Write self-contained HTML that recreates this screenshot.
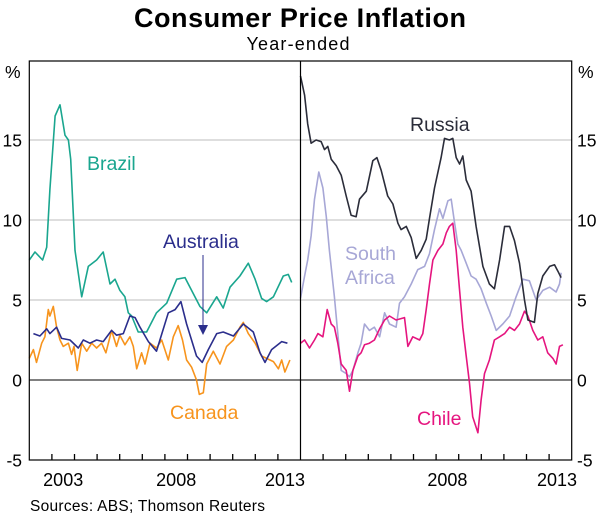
<!DOCTYPE html>
<html><head><meta charset="utf-8"><style>
body{margin:0;background:#fff;width:600px;height:515px;overflow:hidden}
svg{display:block;font-family:"Liberation Sans",Arial,sans-serif}
</style></head><body>
<svg id="chart" width="600" height="515" viewBox="0 0 600 515">
<text x="300" y="27" text-anchor="middle" font-size="27" font-weight="bold" fill="#000" textLength="332">Consumer Price Inflation</text>
<text x="298" y="50" text-anchor="middle" font-size="18" fill="#000" textLength="103">Year-ended</text>
<g id="grid"></g><g id="series"></g><g id="axes"></g>
<text x="87" y="170" font-size="19.5" fill="#1aa68f">Brazil</text>
<text x="163" y="248" font-size="19.5" fill="#2b2e8c">Australia</text>
<g><line x1="203" y1="255" x2="203" y2="326" stroke="#2b2e8c" stroke-width="1"/><polygon points="198,325 208,325 203,335" fill="#2b2e8c"/></g>
<text x="170" y="419" font-size="19.5" fill="#f7941d">Canada</text>
<text x="410" y="131" font-size="19.5" fill="#2b2d3a">Russia</text>
<text x="345" y="260" font-size="19.5" fill="#a7a7d6">South</text>
<text x="345" y="284" font-size="19.5" fill="#a7a7d6">Africa</text>
<text x="417" y="425" font-size="19.5" fill="#e5157f">Chile</text>
<text x="30" y="511" font-size="15.5" fill="#000" textLength="235">Sources: ABS; Thomson Reuters</text>
</svg>
<script>
const brazilX=[2001.0,2001.25,2001.59,2001.77,2001.91,2002.14,2002.36,2002.58,2002.73,2002.83,2003.02,2003.32,2003.61,2003.98,2004.27,2004.57,2004.79,2005.01,2005.23,2005.38,2005.53,2005.82,2006.19,2006.63,2007.08,2007.52,2007.89,2008.18,2008.55,2008.85,2009.29,2009.58,2009.88,2010.32,2010.69,2010.99,2011.28,2011.50,2011.80,2012.24,2012.46,2012.61];
const brazilY=[7.5,8,7.5,8.3,11.9,16.5,17.2,15.3,15,13.8,8.1,5.2,7.1,7.5,8,6,6.3,5.6,5.2,4.2,4,3,3,4.2,4.8,6.3,6.4,5.6,4.6,4.2,5.2,4.5,5.8,6.5,7.3,6.3,5.1,4.9,5.2,6.5,6.6,6.1];
const ausX=[2001.18,2001.47,2001.77,2001.91,2002.21,2002.43,2002.80,2003.17,2003.39,2003.68,2003.98,2004.27,2004.64,2004.86,2005.16,2005.45,2005.68,2005.90,2006.27,2006.63,2006.78,2007.15,2007.45,2007.71,2007.96,2008.40,2008.65,2008.92,2009.29,2009.58,2010.03,2010.47,2010.91,2011.21,2011.43,2011.72,2012.17,2012.42];
const ausY=[2.9,2.75,3.2,2.9,3.3,2.6,2.5,2,2.5,2.3,2.5,2.4,3.1,2.8,2.9,4,3.9,3.3,2.4,1.8,2.5,4.2,4.4,4.9,3.5,1.5,1.1,1.9,2.9,3,2.75,3.5,3,1.7,1.1,1.9,2.4,2.3];
const canX=[2001.0,2001.18,2001.32,2001.55,2001.69,2001.84,2001.91,2002.06,2002.21,2002.36,2002.50,2002.73,2002.87,2002.98,2003.12,2003.32,2003.54,2003.76,2003.98,2004.20,2004.39,2004.64,2004.86,2005.01,2005.23,2005.45,2005.60,2005.75,2005.97,2006.12,2006.34,2006.63,2006.86,2007.15,2007.37,2007.59,2007.78,2007.96,2008.18,2008.40,2008.52,2008.70,2008.85,2009.14,2009.44,2009.73,2010.03,2010.32,2010.47,2010.69,2010.99,2011.28,2011.50,2011.80,2012.02,2012.17,2012.31,2012.53];
const canY=[1.35,1.9,1.1,2.3,2.7,4.4,4,4.6,3.3,2.5,2.1,2.3,1.6,2.1,0.6,2.3,1.8,2.3,2,2.3,1.7,3.1,2.1,2.8,2.2,2.7,2.1,0.7,1.7,1,2.3,2,2.5,1.25,2.7,3.4,2.5,1.25,0.8,0,-0.9,-0.8,1,1.8,1,2.1,2.5,3.3,3.6,2.9,2.3,1.5,1.35,1.15,0.7,1.25,0.5,1.25];
const rusX=[2001.0,2001.18,2001.32,2001.47,2001.69,2001.91,2002.06,2002.21,2002.36,2002.58,2002.80,2003.02,2003.24,2003.46,2003.61,2003.91,2004.20,2004.38,2004.57,2004.86,2005.09,2005.31,2005.45,2005.68,2005.90,2006.12,2006.34,2006.56,2006.71,2006.93,2007.22,2007.37,2007.59,2007.74,2007.89,2008.04,2008.18,2008.33,2008.55,2008.77,2009.07,2009.36,2009.58,2009.81,2010.03,2010.25,2010.47,2010.69,2010.91,2011.06,2011.35,2011.50,2011.72,2012.02,2012.24,2012.39,2012.53];
const rusY=[19,17.8,16,14.8,15,14.9,14.4,14.6,13.8,13.4,12.8,11.5,10.3,10.2,11.3,11.8,13.7,13.9,13.1,11.5,11,9.8,9.4,9.6,8.9,7.6,8.1,8.8,10.1,12,13.9,15.1,15,15.1,13.9,13.5,14,12.5,11.8,9.6,7.1,6,5.7,7.5,9.6,9.6,8.7,7.3,5,3.75,3.6,5.4,6.5,7.1,7.2,6.8,6.4];
const zafX=[2001.0,2001.18,2001.32,2001.47,2001.62,2001.81,2001.99,2002.14,2002.28,2002.50,2002.65,2002.80,2003.02,2003.17,2003.32,2003.54,2003.68,2003.83,2004.05,2004.27,2004.50,2004.72,2004.94,2005.23,2005.38,2005.60,2005.90,2006.19,2006.49,2006.71,2006.93,2007.15,2007.30,2007.52,2007.67,2007.81,2007.96,2008.11,2008.33,2008.55,2008.77,2008.99,2009.22,2009.44,2009.66,2009.95,2010.25,2010.54,2010.84,2011.13,2011.43,2011.72,2012.02,2012.31,2012.46,2012.53];
const zafY=[5.1,6.5,7.5,9,11.3,13,12,10.2,8.1,5.2,2.9,0.6,0.4,0.2,0.6,1.7,2.3,3.5,3.1,3.3,2.7,4.2,3.5,3.3,4.8,5.2,6,6.9,7.1,7.9,9.4,10.7,10.1,11.2,11.3,9.9,8.5,8.1,7.3,6.5,6.3,5.7,4.8,4,3.1,3.5,4,5.2,6.3,6.2,5,5.6,5.8,5.5,6,6.7];
const chlX=[2001.0,2001.18,2001.40,2001.62,2001.77,2001.99,2002.18,2002.36,2002.50,2002.65,2002.80,2003.02,2003.17,2003.32,2003.54,2003.68,2003.83,2004.05,2004.27,2004.50,2004.72,2004.94,2005.23,2005.60,2005.75,2005.97,2006.27,2006.41,2006.56,2006.71,2006.86,2007.08,2007.30,2007.45,2007.59,2007.74,2007.89,2008.04,2008.18,2008.33,2008.48,2008.62,2008.85,2008.99,2009.14,2009.36,2009.58,2009.81,2010.03,2010.25,2010.47,2010.69,2010.91,2011.06,2011.28,2011.50,2011.72,2011.94,2012.17,2012.31,2012.46,2012.61];
const chlY=[2.3,2.5,2,2.5,2.9,2.7,4.4,3.5,3.3,2.3,1,0.6,-0.7,0.6,1.5,1.7,2.2,2.3,2.5,3.2,3.75,4,3.75,3.9,2.1,2.7,2.5,2.9,4.4,6,7.5,8.1,8.5,9.2,9.6,9.8,8.1,5.6,3.3,1.5,-0.2,-2.3,-3.3,-1.25,0.4,1.25,2.5,2.7,2.9,3.3,3.1,3.5,4.3,4,3.1,2.5,2.7,1.7,1.35,1,2.1,2.2];
const yTicks=[-5,0,5,10,15];
const yearLabels=[2003,2008,2013];

const NS="http://www.w3.org/2000/svg";
const X0=29.3,X1=571.7,MID=300.5,TOP=61,BOT=460;
const PPY=22.6;
const y=v=>380-v*16;
const xL=t=>X0+(t-2001)*PPY;
const xR=t=>MID+(t-2001)*PPY;
function mk(tag,attrs,parent){const e=document.createElementNS(NS,tag);for(const k in attrs)e.setAttribute(k,attrs[k]);parent.appendChild(e);return e;}
const grid=document.getElementById('grid'),ser=document.getElementById('series'),ax=document.getElementById('axes');
yTicks.forEach(v=>{
  if(v===-5)return;
  const l=mk('line',{x1:X0,x2:X1,y1:y(v),y2:y(v),stroke:v===0?'#000':'#bdbdbd','stroke-width':1},grid);
  
  
});
yTicks.forEach(v=>{
  const a=mk('text',{x:22,y:y(v)+6.5,'text-anchor':'end','font-size':17.5},ax);a.textContent=v;
  
  
  const b=mk('text',{x:577,y:y(v)+6.5,'font-size':17.5},ax);b.textContent=v;
  
  
});
const p1=mk('text',{x:5,y:78,'font-size':17.5},ax);p1.textContent='%';


const p2=mk('text',{x:578,y:78,'font-size':17.5},ax);p2.textContent='%';


const box=mk('rect',{x:X0,y:TOP,width:X1-X0,height:BOT-TOP,fill:'none',stroke:'#000','stroke-width':1.2},ax);


const dv=mk('line',{x1:MID,x2:MID,y1:TOP,y2:BOT,stroke:'#000','stroke-width':1.2},ax);


for(let t=2002;t<=2012;t++){
  [xL,xR].forEach(f=>{const tk=mk('line',{x1:f(t),x2:f(t),y1:BOT,y2:BOT-6,stroke:'#000','stroke-width':1.3},ax);
  
  });
}
yearLabels.forEach(t=>{
  let a=xL(t-0.5); if(a>285)a=285;
  const l=mk('text',{x:a,y:486,'text-anchor':'middle','font-size':18},ax);l.textContent=t;
  
  
  if(t===2003)return;
  let b=xR(t-0.5); if(b>557)b=557;
  const r=mk('text',{x:b,y:486,'text-anchor':'middle','font-size':18},ax);r.textContent=t;
  
  
});
function line(xs,ys,fx,col,name){
  const d=xs.map((t,i)=>(i?'L':'M')+fx(t).toFixed(1)+','+y(ys[i]).toFixed(1)).join('');
  const p=mk('path',{d:d,fill:'none',stroke:col,'stroke-width':1.6,'stroke-linejoin':'round'},ser);
  
  
}
line(brazilX,brazilY,xL,'#1aa68f','brazil-line');
line(canX,canY,xL,'#f7941d','canada-line');
line(ausX,ausY,xL,'#2b2e8c','australia-line');
line(zafX,zafY,xR,'#a7a7d6','south-africa-line');
line(chlX,chlY,xR,'#e5157f','chile-line');
line(rusX,rusY,xR,'#2b2d3a','russia-line');
</script>
</body></html>
